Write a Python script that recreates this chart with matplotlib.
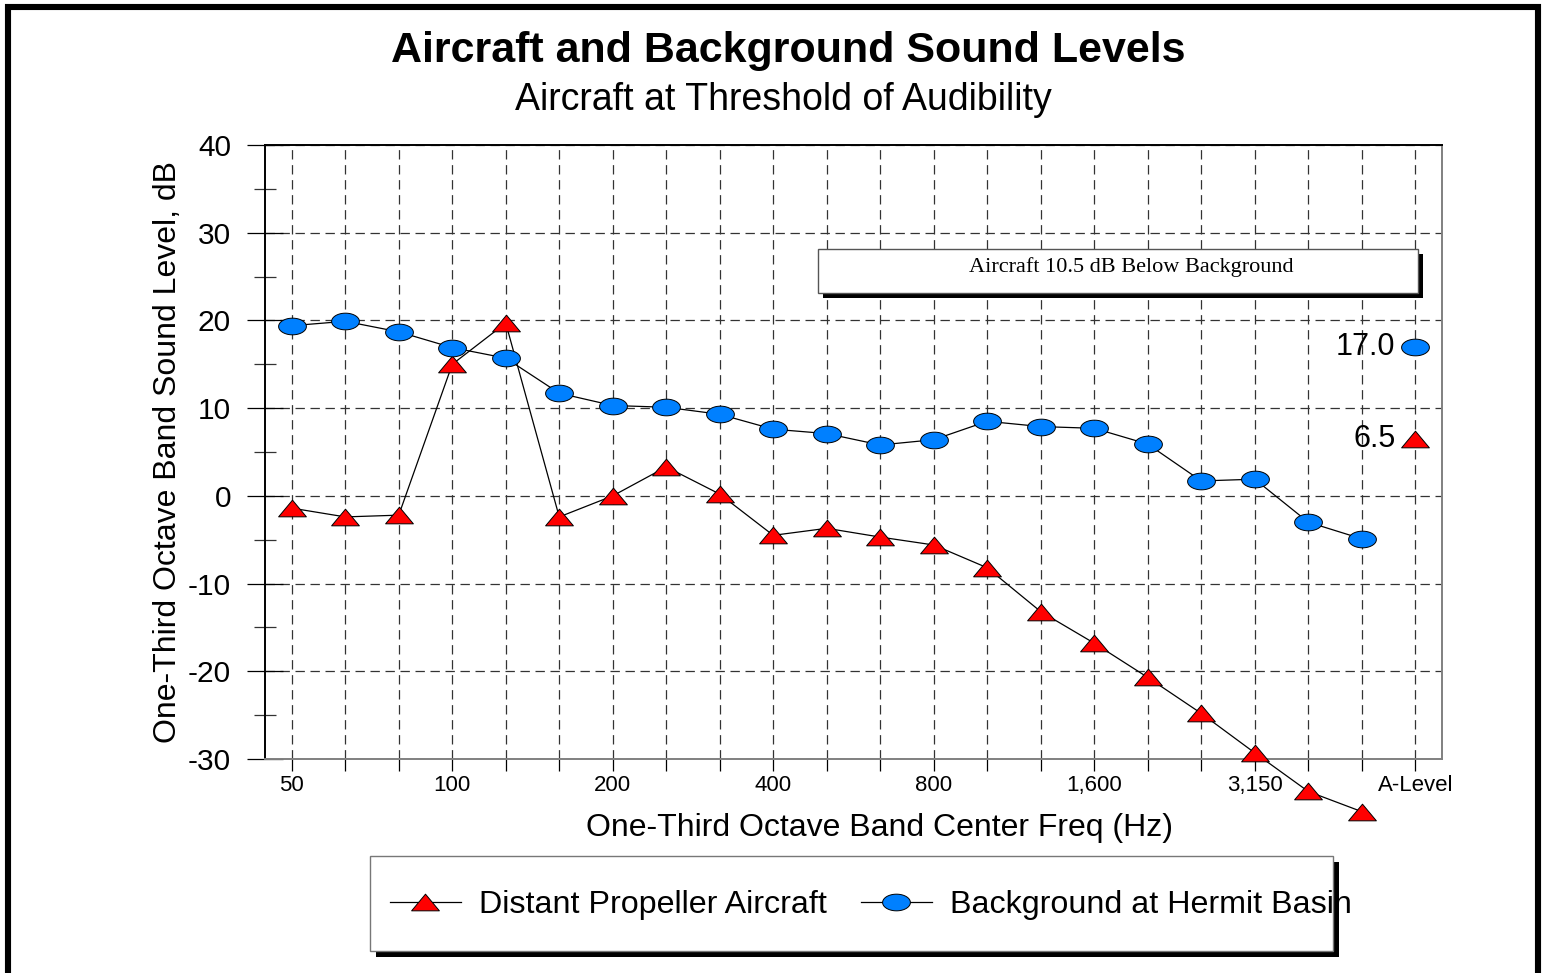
import matplotlib
matplotlib.use("Agg")
import matplotlib.pyplot as plt
from matplotlib.path import Path
from matplotlib.patches import Rectangle
from matplotlib.lines import Line2D
import numpy as np

# ---------------- DATA ----------------
bands = ["50", "63", "80", "100", "125", "160", "200", "250", "315", "400",
         "500", "630", "800", "1,000", "1,250", "1,600", "2,000", "2,500",
         "3,150", "4,000", "5,000", "A-Level"]
shown_labels = ["50", "100", "200", "400", "800", "1,600", "3,150", "A-Level"]

aircraft = [-1.4, -2.4, -2.2, 15.0, 19.7, -2.4, 0.0, 3.3, 0.2, -4.5, -3.7,
            -4.7, -5.6, -8.2, -13.2, -16.8, -20.7, -24.8, -29.3, -33.7, -36.0]
aircraft_a = 6.5
background = [19.4, 19.9, 18.7, 16.9, 15.7, 11.7, 10.3, 10.1, 9.3, 7.6, 7.1,
              5.8, 6.4, 8.5, 7.9, 7.7, 5.9, 1.7, 1.9, -3.0, -4.9]
background_a = 17.0

note = "Aircraft 10.5 dB Below Background"

# ---------------- MARKERS ----------------
t = np.linspace(0, 2 * np.pi, 60)
ellipse = Path(np.column_stack([np.cos(t), 0.6 * np.sin(t)]), closed=True)
tri = Path([(-1, -0.6), (1, -0.6), (0, 0.6), (-1, -0.6)], closed=True)

RED = "#ff0000"
BLUE = "#0080ff"

plt.rcParams["font.family"] = ["Liberation Sans", "DejaVu Sans"]
plt.rcParams["axes.unicode_minus"] = False

W, H = 1542, 973
fig = plt.figure(figsize=(W / 100, H / 100), dpi=100)
ax = fig.add_axes([265 / W, 1 - 759 / H, (1442 - 265) / W, (759 - 145) / H])

x = np.arange(len(aircraft))
xa = len(bands) - 1

style = dict(color="black", lw=0.9, markersize=20, markeredgecolor="black",
             markeredgewidth=0.7, clip_on=False, zorder=3)
ax.plot(x, aircraft, marker=tri, markerfacecolor=RED, **style)
ax.plot(x, background, marker=ellipse, markerfacecolor=BLUE, **style)
ax.plot([xa], [aircraft_a], marker=tri, markerfacecolor=RED, ls="none", **style)
ax.plot([xa], [background_a], marker=ellipse, markerfacecolor=BLUE, ls="none", **style)

ax.text(xa - 0.37, background_a, f"{background_a:.1f}", ha="right", va="center", fontsize=22)
ax.text(xa - 0.37, aircraft_a, f"{aircraft_a:.1f}", ha="right", va="center", fontsize=22)

ax.set_xlim(-0.5, len(bands) - 0.5)
ax.set_ylim(-30, 40)

ax.set_xticks(np.arange(len(bands)))
ax.set_xticklabels([b if b in shown_labels else "" for b in bands], fontsize=16)
ax.tick_params(axis="x", direction="out", length=8.5, width=0.9, pad=3, color="black")

ax.set_yticks(np.arange(-30, 41, 10))
ax.set_yticks(np.arange(-25, 40, 10), minor=True)
ax.tick_params(axis="y", which="major", direction="inout", length=26, width=0.9,
               pad=0, labelsize=21.5)
ax.tick_params(axis="y", which="minor", direction="inout", length=16.5, width=0.9,
               color="#333333")
for lab in ax.get_yticklabels():
    lab.set_x(-0.0136)

ax.grid(True, which="major", color="#333333", lw=0.9, ls=(0, (7.5, 4.5)))

for side, c in [("left", "black"), ("top", "black"), ("bottom", "#808080"), ("right", "#808080")]:
    ax.spines[side].set_color(c)
    ax.spines[side].set_linewidth(1.4)

ax.set_xlabel("One-Third Octave Band Center Freq (Hz)", fontsize=23)
ax.xaxis.set_label_coords((879.5 - 265) / 1177, (759 - 828) / 614)
ax.xaxis.label.set_va("center")
ax.set_ylabel("One-Third Octave Band Sound Level, dB", fontsize=23)
ax.yaxis.set_label_coords((168 - 265) / 1177, 0.5)
ax.yaxis.label.set_va("center")

# ---------------- TITLES ----------------
fig.text(788 / W, 1 - 51 / H, "Aircraft and Background Sound Levels",
         ha="center", va="center", fontsize=31, fontweight="bold")
fig.text(783 / W, 1 - 100 / H, "Aircraft at Threshold of Audibility",
         ha="center", va="center", fontsize=27)


def shadow_box(x0, y0, x1, y1, off, edge):
    # boxes given in pixel coords from top-left
    sh = Rectangle((x0 / W + off / W, 1 - y1 / H - off / H), (x1 - x0) / W, (y1 - y0) / H,
                   transform=fig.transFigure, facecolor="black", edgecolor="none", zorder=4)
    bx = Rectangle((x0 / W, 1 - y1 / H), (x1 - x0) / W, (y1 - y0) / H,
                   transform=fig.transFigure, facecolor="white", edgecolor=edge,
                   lw=1.0, zorder=5)
    fig.add_artist(sh)
    fig.add_artist(bx)


# note box
shadow_box(818, 249, 1418, 293, 5, "#555555")
fig.text(1131 / W, 1 - 267 / H, note, ha="center", va="center", fontsize=16,
         family=["Liberation Serif", "DejaVu Serif"], zorder=6)

# legend box
shadow_box(370, 856, 1333, 951, 6, "#777777")
h1 = Line2D([], [], color="black", lw=0.9, marker=tri, markersize=20,
            markerfacecolor=RED, markeredgecolor="black", markeredgewidth=0.7)
h2 = Line2D([], [], color="black", lw=0.9, marker=ellipse, markersize=20,
            markerfacecolor=BLUE, markeredgecolor="black", markeredgewidth=0.7)
leg = fig.legend([h1, h2], ["Distant Propeller Aircraft", "Background at Hermit Basin"],
                 loc="center left", bbox_to_anchor=(390 / W, 1 - 905 / H), ncol=2,
                 frameon=False, fontsize=23.2, handlelength=2.2, handletextpad=0.56,
                 columnspacing=1.06, borderpad=0, borderaxespad=0)
leg.set_zorder(7)

# outer frame
fig.add_artist(Rectangle((8 / W, -0.05), (1537.5 - 8) / W, 1.05 - 7.5 / H,
                         transform=fig.transFigure, fill=False, edgecolor="black",
                         lw=4.4, clip_on=False, zorder=10))

fig.savefig("out.png", dpi=100)
